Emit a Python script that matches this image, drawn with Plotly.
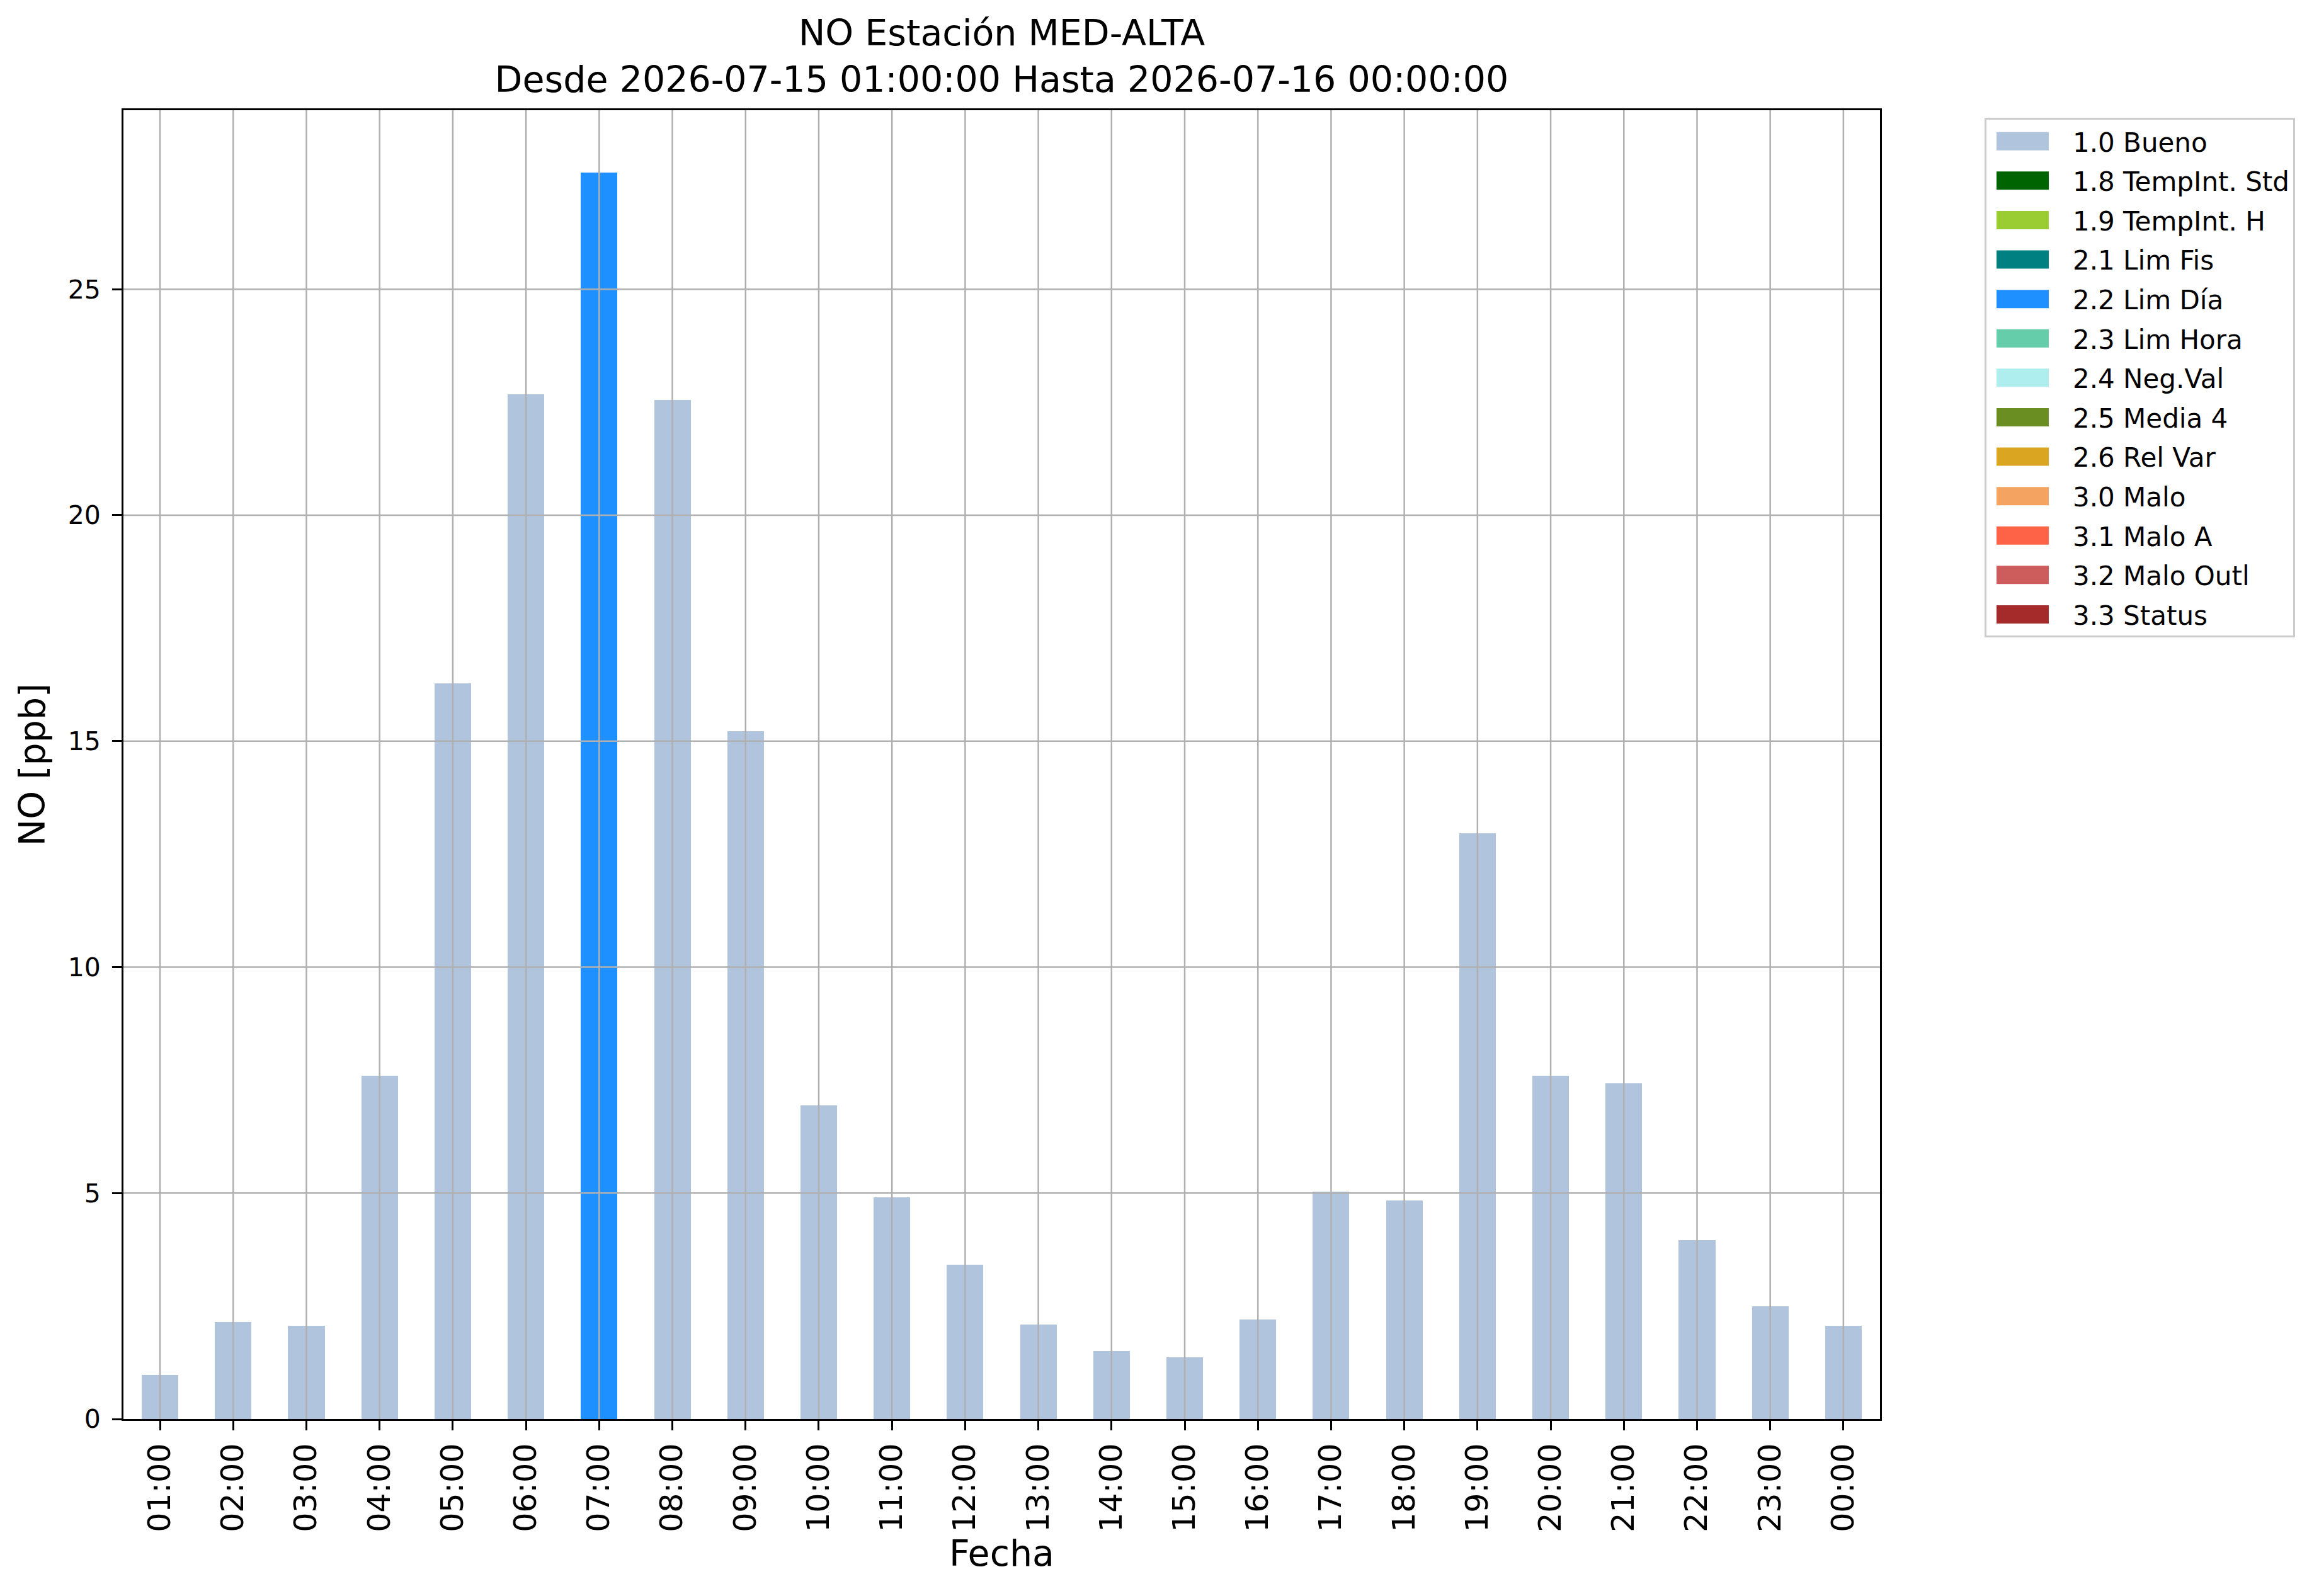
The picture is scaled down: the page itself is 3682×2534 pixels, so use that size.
import plotly.graph_objects as go

# hourly categories on the x axis
horas = ["01:00", "02:00", "03:00", "04:00", "05:00", "06:00", "07:00", "08:00",
         "09:00", "10:00", "11:00", "12:00", "13:00", "14:00", "15:00", "16:00",
         "17:00", "18:00", "19:00", "20:00", "21:00", "22:00", "23:00", "00:00"]

# NO [ppb] per flag (None = no value with that flag)
bueno = [0.98, 2.15, 2.06, 7.59, 16.28, 22.68, None, 22.55, 15.22, 6.94, 4.91, 3.41,
         2.09, 1.50, 1.37, 2.20, 5.03, 4.84, 12.96, 7.59, 7.43, 3.96, 2.49, 2.06]
lim_dia = [None, None, None, None, None, None, 27.58, None, None, None, None, None,
           None, None, None, None, None, None, None, None, None, None, None, None]

# legend flags and their colours
flags = ["1.0 Bueno", "1.8 TempInt. Std", "1.9 TempInt. H", "2.1 Lim Fis", "2.2 Lim Día",
         "2.3 Lim Hora", "2.4 Neg.Val", "2.5 Media 4", "2.6 Rel Var", "3.0 Malo",
         "3.1 Malo A", "3.2 Malo Outl", "3.3 Status"]
colores = ["#B0C4DE", "#006400", "#9ACD32", "#008080", "#1E90FF", "#66CDAA", "#AFEEEE",
           "#6B8E23", "#DAA520", "#F4A460", "#FF6347", "#CD5C5C", "#A52A2A"]

yticks = [0, 5, 10, 15, 20, 25]

FONT = "DejaVu Sans"
GRID = "#b0b0b0"

fig = go.Figure()

# legend entries (one per flag)
for name, col in zip(flags, colores):
    fig.add_scatter(x=[None], y=[None], mode="lines", name=name, legendgroup=name,
                    line=dict(color=col, width=5), hoverinfo="skip")

# the bars
fig.add_bar(x=horas, y=bueno, name=flags[0], legendgroup=flags[0], showlegend=False,
            marker=dict(color=colores[0], line=dict(width=0)))
fig.add_bar(x=horas, y=lim_dia, name=flags[4], legendgroup=flags[4], showlegend=False,
            marker=dict(color=colores[4], line=dict(width=0)))

# grid drawn above the bars, like matplotlib
for h in horas:
    fig.add_shape(type="line", xref="x", yref="paper", x0=h, x1=h, y0=0, y1=1,
                  line=dict(color=GRID, width=2.5), layer="above")
for v in yticks[1:]:
    fig.add_shape(type="line", xref="paper", yref="y", x0=0, x1=1, y0=v, y1=v,
                  line=dict(color=GRID, width=2.5), layer="above")

fig.update_layout(
    width=3682, height=2534, autosize=False,
    paper_bgcolor="white", plot_bgcolor="white",
    margin=dict(l=188, r=705, t=167, b=289, pad=0),
    font=dict(family=FONT, color="black"),
    barmode="stack", bargap=0.5,
    title=dict(text="NO Estación MED-ALTA<br>Desde 2026-07-15 01:00:00 Hasta 2026-07-16 00:00:00",
               font=dict(size=57, family=FONT), x=0.5, xref="paper", xanchor="center",
               y=1 - 64 / 2534, yref="container", yanchor="middle"),
    legend=dict(x=1.0595, y=0.994, xanchor="left", yanchor="top",
                bgcolor="white", bordercolor="#cccccc", borderwidth=3,
                font=dict(size=42, family=FONT), traceorder="grouped",
                tracegroupgap=5, itemwidth=127),
    showlegend=True,
)

fig.update_xaxes(
    type="category", categoryorder="array", categoryarray=horas,
    range=[-0.5, 23.5], showgrid=False, zeroline=False,
    showline=True, linecolor="black", linewidth=3, mirror=True,
    ticks="outside", ticklen=15, tickwidth=3, tickcolor="black",
    tickangle=-90, tickfont=dict(size=49, family=FONT), ticklabelstandoff=1,
    title=dict(text="Fecha", font=dict(size=57, family=FONT), standoff=8),
)
fig.update_yaxes(
    range=[0, 28.96], tickvals=yticks, showgrid=False, zeroline=False,
    showline=True, linecolor="black", linewidth=3, mirror=True,
    ticks="outside", ticklen=15, tickwidth=3, tickcolor="black",
    tickfont=dict(size=41, family=FONT), ticklabelstandoff=10,
    title=dict(text="NO [ppb]", font=dict(size=57, family=FONT), standoff=18),
)

# matplotlib-like legend patches: wide flat rectangles instead of thin lines
patch_js = """
var gd = document.getElementById('{plot_id}');
gd.querySelectorAll('.legendlines path').forEach(function(p){
    p.setAttribute('d', 'M16,0h83');
    p.style.strokeWidth = '29px';
    p.style.strokeLinecap = 'butt';
});
"""

fig.write_html("out.html", post_script=patch_js)
